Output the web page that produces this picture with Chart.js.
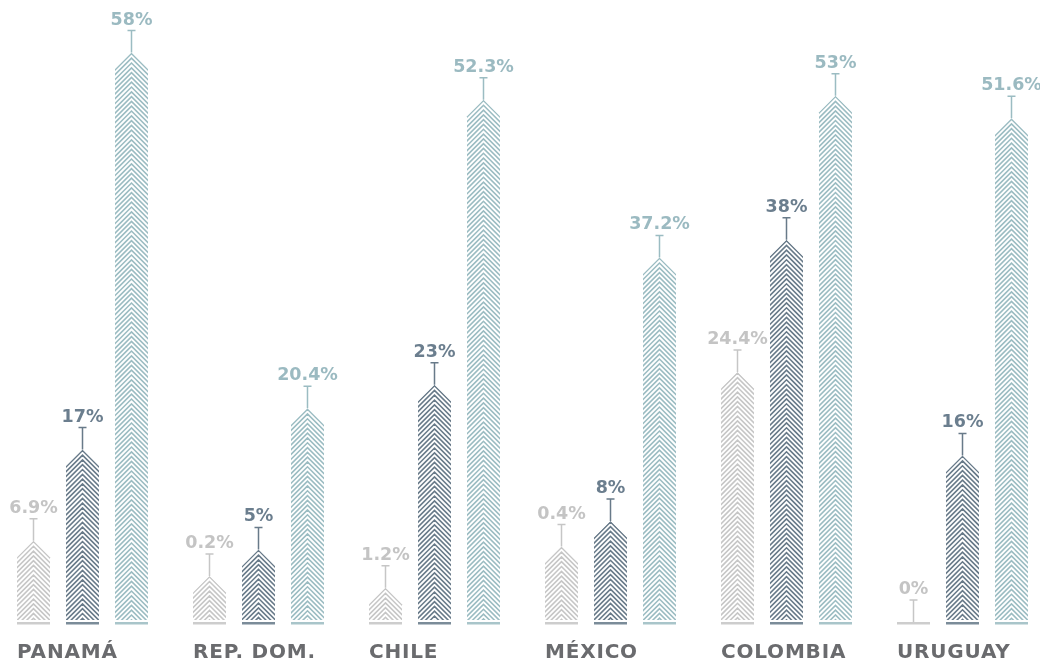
<!DOCTYPE html>
<html>
<head>
<meta charset="utf-8">
<script src="https://cdn.jsdelivr.net/npm/chart.js@4.4.1/dist/chart.umd.min.js"></script>
<style>
  html, body { margin: 0; padding: 0; background: #ffffff; }
  #c { display: block; }
</style>
</head>
<body>
<canvas id="c" width="1040" height="671"></canvas>
<script>
// ---- data ----
const categories = ['PANAMÁ', 'REP. DOM.', 'CHILE', 'MÉXICO', 'COLOMBIA', 'URUGUAY'];
// percentages printed above each bar
const greyValues = [6.9, 0.2, 1.2, 0.4, 24.4, 0];
const darkValues = [17, 5, 23, 8, 38, 16];
const tealValues = [58, 20.4, 52.3, 37.2, 53, 51.6];
// drawn bar heights (the infographic is not strictly to scale), in % units
const greyHeights = [8.3, 4.7, 3.5, 7.7, 25.5, 0];
const darkHeights = [17.6, 7.4, 24.2, 10.3, 39.0, 17.0];
const tealHeights = [58.1, 21.8, 53.3, 37.2, 53.7, 51.4];

const colors = {
  grey: { line: '#c6c6c6', text: '#c4c4c4', base: '#cdcdcd' },
  dark: { line: '#687a89', text: '#6b7e8e', base: '#7b8c99' },
  teal: { line: '#9bbcc2', text: '#9bbac1', base: '#a9c5ca' }
};

const seriesMeta = [
  { values: greyValues, c: colors.grey },
  { values: darkValues, c: colors.dark },
  { values: tealValues, c: colors.teal }
];

const chevronPlugin = {
  id: 'chevronBars',
  afterDatasetsDraw(chart) {
    const ctx = chart.ctx;
    chart.data.datasets.forEach((ds, di) => {
      const meta = chart.getDatasetMeta(di);
      const sm = seriesMeta[di];
      meta.data.forEach((bar, i) => {
        const x = bar.x, apex = bar.y, base = bar.base, w = bar.width;
        const hw = w / 2;
        const col = sm.c;
        // chevron body
        if (base - apex > 0.5) {
          ctx.save();
          ctx.beginPath();
          ctx.moveTo(x - hw, base - 2);
          ctx.lineTo(x - hw, apex + hw);
          ctx.lineTo(x, apex);
          ctx.lineTo(x + hw, apex + hw);
          ctx.lineTo(x + hw, base - 2);
          ctx.closePath();
          ctx.clip();
          ctx.strokeStyle = col.line;
          ctx.lineWidth = 1.6;
          ctx.beginPath();
          for (let yk = apex + 0.8; yk < base + hw; yk += 4.8) {
            ctx.moveTo(x - hw - 1, yk + hw + 1);
            ctx.lineTo(x, yk);
            ctx.lineTo(x + hw + 1, yk + hw + 1);
          }
          ctx.stroke();
          ctx.restore();
        }
        // baseline
        ctx.save();
        ctx.fillStyle = col.base;
        ctx.fillRect(x - hw, base, w, 2.5);
        // T marker
        ctx.strokeStyle = col.line;
        ctx.lineWidth = 1.5;
        const capY = apex - 22;
        ctx.beginPath();
        ctx.moveTo(x, apex);
        ctx.lineTo(x, capY);
        ctx.moveTo(x - 4, capY);
        ctx.lineTo(x + 4, capY);
        ctx.stroke();
        // value label
        ctx.fillStyle = col.text;
        ctx.font = 'bold 17.5px "DejaVu Sans"';
        ctx.textAlign = 'center';
        ctx.textBaseline = 'alphabetic';
        ctx.fillText(sm.values[i] + '%', x, capY - 6);
        ctx.restore();
      });
    });
    // category labels, left aligned with the first bar of each group
    const m0 = chart.getDatasetMeta(0);
    ctx.save();
    ctx.fillStyle = '#6a6b6e';
    ctx.font = 'bold 20px "DejaVu Sans"';
    ctx.textAlign = 'left';
    ctx.textBaseline = 'alphabetic';
    try { ctx.letterSpacing = '0.8px'; } catch (e) {}
    m0.data.forEach((bar, i) => {
      ctx.fillText(chart.data.labels[i], bar.x - bar.width / 2, 658);
    });
    ctx.restore();
  }
};

const mkDs = (heights) => ({
  data: heights,
  backgroundColor: 'rgba(0,0,0,0)',
  borderWidth: 0,
  categoryPercentage: 0.8352,
  barPercentage: 0.6735,
  clip: false
});

new Chart(document.getElementById('c'), {
  type: 'bar',
  data: {
    labels: categories,
    datasets: [mkDs(greyHeights), mkDs(darkHeights), mkDs(tealHeights)]
  },
  options: {
    responsive: false,
    animation: false,
    layout: { padding: { left: 82.5, right: 77.5, top: 34, bottom: 49 } },
    plugins: { legend: { display: false }, tooltip: { enabled: false } },
    scales: {
      x: { type: 'category', offset: false, display: false, grid: { display: false } },
      y: { min: 0, max: 60, display: false, grid: { display: false } }
    }
  },
  plugins: [chevronPlugin]
});
</script>
</body>
</html>
